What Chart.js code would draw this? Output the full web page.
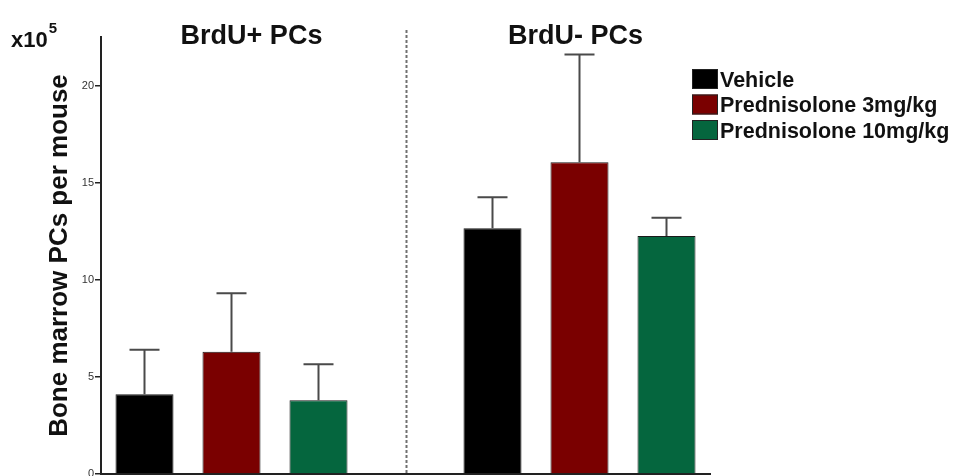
<!DOCTYPE html>
<html>
<head>
<meta charset="utf-8">
<script src="https://cdn.jsdelivr.net/npm/chart.js@4.4.1/dist/chart.umd.min.js"></script>
<style>
  html, body { margin: 0; padding: 0; background: #fff; }
  #wrap { width: 958px; height: 476px; position: relative; }
</style>
</head>
<body>
<div id="wrap"><canvas id="c" width="958" height="476"></canvas></div>
<script>
// ---- data ----
const groups = ["BrdU+ PCs", "BrdU- PCs"];
const treatments = ["Vehicle", "Prednisolone 3mg/kg", "Prednisolone 10mg/kg"];
const vehicleMean = [4.1, 12.65];
const vehicleErr = [2.3, 1.6];
const pred3Mean = [6.3, 16.05];
const pred3Err = [3.0, 5.55];
const pred10Mean = [3.8, 12.25];
const pred10Err = [1.85, 0.95];
const yTicks = [0, 5, 10, 15, 20];
const yMax = 22.5;
const yTitle = "Bone marrow PCs per mouse";
const yUnit = "x10";
const yUnitExp = "5";

// ---- styles ----
const FONT = 'Arial, "Liberation Sans", sans-serif';
const colors = ["#000000", "#7a0000", "#05663e"];
const means = [vehicleMean, pred3Mean, pred10Mean];
const errs = [vehicleErr, pred3Err, pred10Err];

// slots: 3 bars, an empty gap slot, 3 bars
const nT = treatments.length;
const slotLabels = [];
groups.forEach((g, gi) => {
  treatments.forEach(t => slotLabels.push(g + " " + t));
  if (gi < groups.length - 1) slotLabels.push("");
});
function slotIndex(gi, ti) { return gi * (nT + 1) + ti; }

const datasets = treatments.map((t, ti) => {
  const data = slotLabels.map(() => null);
  groups.forEach((g, gi) => { data[slotIndex(gi, ti)] = means[ti][gi]; });
  return {
    label: t,
    data: data,
    backgroundColor: colors[ti],
    borderColor: "#1a1a1a",
    borderWidth: 1,
    grouped: false,
    barPercentage: 0.667,
    categoryPercentage: 1.0
  };
});

const decorPlugin = {
  id: "decor",
  afterDatasetsDraw(chart) {
    const ctx = chart.ctx;
    const x = chart.scales.x, y = chart.scales.y;
    ctx.save();
    // error bars (upper only)
    treatments.forEach((t, ti) => {
      groups.forEach((g, gi) => {
        const px = x.getPixelForValue(slotIndex(gi, ti));
        const top = y.getPixelForValue(means[ti][gi] + errs[ti][gi]);
        const base = y.getPixelForValue(means[ti][gi]);
        ctx.strokeStyle = "#4a4a4a";
        ctx.lineWidth = 2;
        ctx.beginPath();
        ctx.moveTo(px, base);
        ctx.lineTo(px, top);
        ctx.moveTo(px - 15, top);
        ctx.lineTo(px + 15, top);
        ctx.stroke();
      });
    });
    // dashed separator(s)
    for (let gi = 0; gi < groups.length - 1; gi++) {
      const px = x.getPixelForValue(slotIndex(gi, nT)) + 1;
      ctx.strokeStyle = "#707070";
      ctx.lineWidth = 2;
      ctx.setLineDash([3, 2]);
      ctx.beginPath();
      ctx.moveTo(px, 30);
      ctx.lineTo(px, chart.chartArea.bottom);
      ctx.stroke();
      ctx.setLineDash([]);
    }
    // group titles
    const titleOffsets = [20, -4];
    ctx.fillStyle = "#111";
    ctx.font = "bold 27px " + FONT;
    ctx.textAlign = "center";
    ctx.textBaseline = "middle";
    groups.forEach((g, gi) => {
      const px = x.getPixelForValue(slotIndex(gi, 1)) + titleOffsets[gi];
      ctx.fillText(g, px, 37);
    });
    // unit label x10^5
    ctx.textAlign = "left";
    ctx.textBaseline = "alphabetic";
    ctx.font = "bold 22px " + FONT;
    ctx.fillText(yUnit, 11, 47);
    const w = ctx.measureText(yUnit).width;
    ctx.font = "bold 15px " + FONT;
    ctx.fillText(yUnitExp, 11 + w + 1, 33);
    // legend
    ctx.font = "bold 21.5px " + FONT;
    ctx.textBaseline = "middle";
    chart.data.datasets.forEach((ds, i) => {
      const by = 69 + i * 25.5;
      ctx.fillStyle = ds.backgroundColor;
      ctx.fillRect(692, by, 26, 20);
      ctx.strokeStyle = "#222";
      ctx.lineWidth = 1;
      ctx.strokeRect(692.5, by + 0.5, 25, 19);
      ctx.fillStyle = "#111";
      ctx.fillText(ds.label, 720, by + 12);
    });
    ctx.restore();
  }
};

new Chart(document.getElementById("c"), {
  type: "bar",
  data: { labels: slotLabels, datasets: datasets },
  options: {
    responsive: false,
    animation: false,
    devicePixelRatio: 1,
    layout: { padding: { left: 0, right: 248, top: 37, bottom: 2 } },
    plugins: { legend: { display: false }, tooltip: { enabled: false } },
    scales: {
      x: {
        type: "category",
        offset: true,
        grid: { display: false, drawTicks: false },
        ticks: { display: false },
        border: { display: true, color: "#222", width: 2 },
        afterFit(s) { s.height = 0; }
      },
      y: {
        min: 0,
        max: yMax,
        afterBuildTicks(s) { s.ticks = yTicks.map(v => ({ value: v })); },
        afterFit(s) { s.width = 101; s.paddingTop = 0; s.paddingBottom = 0; },
        grid: { display: true, drawOnChartArea: false, drawTicks: true, tickLength: 6, color: "#222", lineWidth: 1.5 },
        border: { display: true, color: "#222", width: 2 },
        ticks: { color: "#333", padding: 1, font: { family: FONT, size: 11 } },
        title: {
          display: true,
          text: yTitle,
          color: "#111",
          font: { family: FONT, size: 26, weight: "bold" },
          padding: { top: 44, bottom: 0 }
        }
      }
    }
  },
  plugins: [decorPlugin]
});
</script>
</body>
</html>
